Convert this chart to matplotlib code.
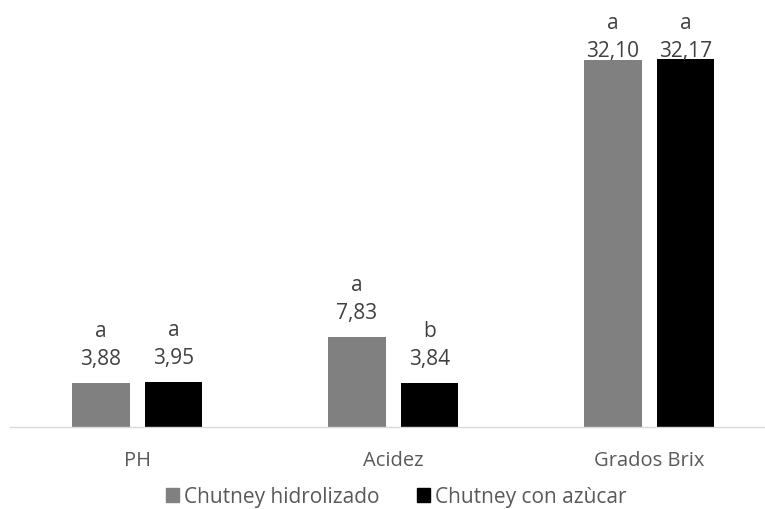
import numpy as np
import matplotlib.pyplot as plt
from matplotlib.patches import Patch

categories = ["PH", "Acidez", "Grados Brix"]
hidrolizado = [3.88, 7.83, 32.10]
azucar = [3.95, 3.84, 32.17]
letters_hid = ["a", "a", "a"]
letters_azu = ["a", "b", "a"]
series_names = ["Chutney hidrolizado", "Chutney con azùcar"]

plt.rcParams['font.family'] = ['Open Sans', 'DejaVu Sans']

W, H = 765, 509
fig = plt.figure(figsize=(W / 100, H / 100), dpi=100)
ax = fig.add_axes([10 / W, 82 / H, 755 / W, 427 / H])

ymax = 37.3
px = ymax / 427  # data units per pixel

x = np.arange(len(categories))
w = 0.225
off = 0.142
b1 = ax.bar(x - off, hidrolizado, w, color="#808080", label=series_names[0])
b2 = ax.bar(x + off, azucar, w, color="#000000", label=series_names[1])

def fmt(v):
    return ("%.2f" % v).replace(".", ",")

# value + significance letter above each bar, kept inside the plot area
for bars, vals, lets in [(b1, hidrolizado, letters_hid), (b2, azucar, letters_azu)]:
    for rect, v, l in zip(bars, vals, lets):
        cx = rect.get_x() + rect.get_width() / 2
        ybase = min(v + 18 * px, ymax - 57 * px)
        ax.text(cx, ybase, fmt(v), ha="center", va="baseline",
                fontsize=15, color="#404040")
        ax.text(cx, ybase + 28 * px, l, ha="center", va="baseline",
                fontsize=15, color="#404040")

ax.set_xlim(-0.497, 2.453)
ax.set_ylim(0, ymax)
ax.set_xticks(x)
ax.set_xticklabels(categories, fontsize=14.5, color="#595959")
ax.tick_params(axis="x", length=0, pad=17)
ax.set_yticks([])
for s in ["top", "right", "left"]:
    ax.spines[s].set_visible(False)
ax.spines["bottom"].set_color("#d9d9d9")
ax.spines["bottom"].set_linewidth(1)

handles = [Patch(color="#808080"), Patch(color="#000000")]
fig.legend(handles, series_names, loc="center", bbox_to_anchor=(396 / W, 1 - 497 / H),
           ncol=2, frameon=False, fontsize=15, handlelength=0.62, handleheight=0.62,
           handletextpad=0.24, columnspacing=1.8, labelcolor="#595959",
           borderpad=0, borderaxespad=0)

fig.savefig("out.png", dpi=100)
